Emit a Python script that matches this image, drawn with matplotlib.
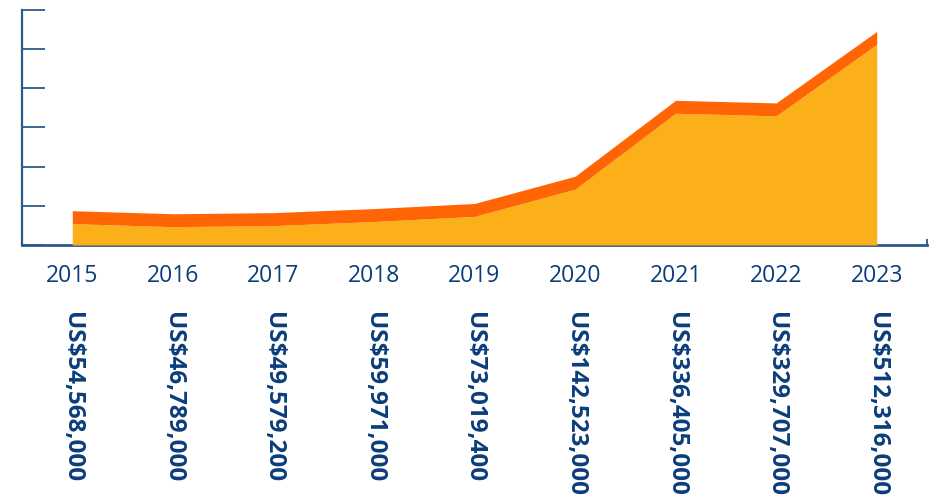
import matplotlib
matplotlib.use("Agg")
import matplotlib.pyplot as plt
import numpy as np

years = ["2015", "2016", "2017", "2018", "2019", "2020", "2021", "2022", "2023"]
values = [54568000, 46789000, 49579200, 59971000, 73019400, 142523000, 336405000, 329707000, 512316000]
labels = ["US$54,568,000", "US$46,789,000", "US$49,579,200", "US$59,971,000", "US$73,019,400",
          "US$142,523,000", "US$336,405,000", "US$329,707,000", "US$512,316,000"]

NAVY = "#0B3D7B"
AXIS = "#2D5A8C"
YELLOW = "#FBB01A"
ORANGE = "#FF6405"

plt.rcParams['font.family'] = ['Open Sans', 'DejaVu Sans']

fig = plt.figure(figsize=(9.35, 4.97), dpi=100)
ax = fig.add_axes([22/935, 1-245/497, (927-22)/935, 235/497])

x = np.arange(len(years))
v = np.array(values) / 1e6
band = 33.0
ax.fill_between(x, 0, v, color=YELLOW, lw=0, zorder=2)
ax.fill_between(x, v, v + band, color=ORANGE, lw=0, zorder=2)

ax.set_xlim(-0.5, 8.5)
ax.set_ylim(0, 600)

for s in ["top", "right"]:
    ax.spines[s].set_visible(False)
ax.spines["left"].set_color(AXIS)
ax.spines["bottom"].set_color(AXIS)
ax.spines["left"].set_linewidth(1.6)
ax.spines["bottom"].set_linewidth(2.0)
ax.spines["bottom"].set_zorder(1)

ax.set_yticks(np.arange(0, 601, 100))
ax.set_yticklabels([])
ax.tick_params(axis="y", direction="in", length=16.5, width=1.3, color=AXIS)

ax.set_xticks(x)
ax.set_xticklabels(years, fontsize=16.5, color=NAVY)
ax.tick_params(axis="x", which="major", length=0, pad=14)
ax.set_xticks(np.arange(-0.5, 8.6, 1.0)[1:], minor=True)
ax.tick_params(axis="x", which="minor", direction="in", length=4.5, width=1.3, color=AXIS)

for xi, lab in zip(x, labels):
    ax.text(xi, -67/235, lab, transform=ax.get_xaxis_transform(), rotation=270,
            ha="center", va="top", fontsize=17.5, fontweight="bold", color=NAVY)

fig.savefig("out.png", dpi=100)
